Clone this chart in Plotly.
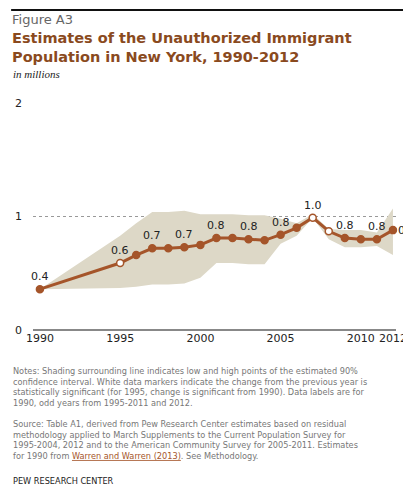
import plotly.graph_objects as go

years = [1990, 1995, 1996, 1997, 1998, 1999, 2000, 2001, 2002, 2003, 2004,
         2005, 2006, 2007, 2008, 2009, 2010, 2011, 2012]
values = [0.36, 0.59, 0.66, 0.72, 0.72, 0.73, 0.75, 0.81, 0.81, 0.80, 0.79,
          0.84, 0.90, 0.99, 0.87, 0.81, 0.80, 0.80, 0.88]
upper = [0.36, 0.83, 0.94, 1.04, 1.04, 1.05, 1.02, 1.02, 1.02, 1.01, 1.01,
         0.98, 0.94, 1.02, 0.89, 0.88, 0.88, 0.86, 1.07]
lower = [0.36, 0.37, 0.38, 0.40, 0.40, 0.41, 0.46, 0.59, 0.59, 0.58, 0.58,
         0.76, 0.83, 0.99, 0.80, 0.73, 0.73, 0.74, 0.66]
significant = [1995, 2007, 2008]
label_years = [1990, 1995, 1997, 1999, 2001, 2003, 2005, 2007, 2009, 2011, 2012]
label_text = ["0.4", "0.6", "0.7", "0.7", "0.8", "0.8", "0.8", "1.0", "0.8", "0.8", "0.9"]
x_ticks = [1990, 1995, 2000, 2005, 2010, 2012]
y_ticks = [0, 1, 2]

brown = "#a5552a"
font = "DejaVu Sans"

# plot area in pixels: left 25, right 390, top 95, bottom 322
def px(x):
    return (x - 25) / 365

def py(y):
    return (322 - y) / 227

fig = go.Figure()
fig.add_trace(go.Scatter(x=years, y=upper, mode="lines", line=dict(width=0),
                         hoverinfo="skip", showlegend=False))
fig.add_trace(go.Scatter(x=years, y=lower, mode="lines", line=dict(width=0),
                         fill="tonexty", fillcolor="#ddd8c7",
                         hoverinfo="skip", showlegend=False))
fig.add_trace(go.Scatter(
    x=years, y=values, mode="lines+markers", showlegend=False, cliponaxis=False,
    line=dict(color=brown, width=3),
    marker=dict(size=7,
                color=["white" if y in significant else brown for y in years],
                line=dict(color=brown, width=1.5))))

for yr, txt in zip(label_years, label_text):
    v = values[years.index(yr)]
    if yr == 2012:
        fig.add_annotation(x=yr, y=v, text=txt, showarrow=False, xanchor="left",
                           xshift=3, font=dict(family=font, size=11, color="#222"))
    else:
        fig.add_annotation(x=yr, y=v, text=txt, showarrow=False, yanchor="bottom",
                           yshift=4, font=dict(family=font, size=11, color="#222"))

for t in y_ticks:
    fig.add_annotation(x=px(10), xref="paper", y=t, text=str(t), showarrow=False,
                       xanchor="center", font=dict(family=font, size=11, color="#222"))

notes = ("Notes: Shading surrounding line indicates low and high points of the estimated 90%<br>"
         "confidence interval. White data markers indicate the change from the previous year is<br>"
         "statistically significant (for 1995, change is significant from 1990). Data labels are for<br>"
         "1990, odd years from 1995-2011 and 2012.")
source = ("Source: Table A1, derived from Pew Research Center estimates based on residual<br>"
          "methodology applied to March Supplements to the Current Population Survey for<br>"
          "1995-2004, 2012 and to the American Community Survey for 2005-2011. Estimates<br>"
          "for 1990 from <span style='color:#a5552a;text-decoration:underline'>Warren and Warren (2013)</span>. See Methodology.")

def text_at(x, y, txt, size, color, fam=font, valign="top"):
    fig.add_annotation(x=px(x), xref="paper", y=py(y), yref="paper", xanchor="left",
                       yanchor=valign, text=txt, showarrow=False, align="left",
                       font=dict(family=fam, size=size, color=color))

text_at(3, 356, notes, 8.2, "#777")
text_at(3, 409, source, 8.2, "#777")
text_at(3, 473, "PEW RESEARCH CENTER", 8.2, "#222", valign="middle")
text_at(2, 2, "Figure A3", 13, "#666")
text_at(2, 20, "<b>Estimates of the Unauthorized Immigrant<br>Population in New York, 1990-2012</b>",
        14.5, "#8a4a1e")
text_at(3, 58, "<i>in millions</i>", 11, "#222", fam="Liberation Serif")

for yline in [2, 493]:
    fig.add_shape(type="line", xref="paper", yref="paper", x0=px(3), x1=px(408),
                  y0=py(yline), y1=py(yline), line=dict(color="#111", width=2))

fig.update_layout(
    width=411, height=498,
    margin=dict(l=25, r=21, t=95, b=176),
    plot_bgcolor="white", paper_bgcolor="white",
    xaxis=dict(range=[1989.57, 2012.19], tickvals=x_ticks, showgrid=False,
               zeroline=False, showline=False, ticks="",
               tickfont=dict(family=font, size=11, color="#222")),
    yaxis=dict(range=[0, 2], tickvals=y_ticks, showticklabels=False,
               showgrid=True, gridcolor="#999", griddash="dot", gridwidth=1,
               zeroline=True, zerolinecolor="#888", zerolinewidth=1.5),
)
fig.write_html("out.html")
